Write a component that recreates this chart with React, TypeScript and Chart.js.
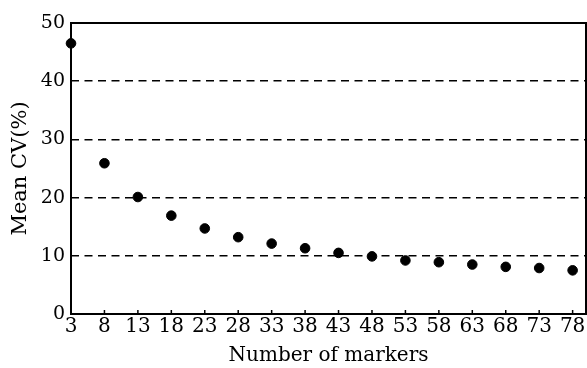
import React, { useEffect, useRef } from "react";
import { Chart, registerables } from "chart.js";

Chart.register(...registerables);

const markers = [3, 8, 13, 18, 23, 28, 33, 38, 43, 48, 53, 58, 63, 68, 73, 78];
const meanCV = [46.5, 25.9, 20.1, 16.9, 14.7, 13.2, 12.1, 11.3, 10.5, 9.9, 9.2, 8.9, 8.5, 8.1, 7.9, 7.5];
const xTicks = [3, 8, 13, 18, 23, 28, 33, 38, 43, 48, 53, 58, 63, 68, 73, 78];
const yTicks = [0, 10, 20, 30, 40, 50];

const FONT = "'DejaVu Serif', 'Liberation Serif', serif";

const framePlugin = {
  id: "frame",
  beforeDatasetsDraw(chart: any) {
    const { ctx, chartArea } = chart;
    const { left, right, top, bottom } = chartArea;
    const xs = chart.scales.x;
    ctx.save();
    ctx.strokeStyle = "#000";
    ctx.setLineDash([]);
    ctx.lineWidth = 2;
    ctx.strokeRect(left, top, right - left, bottom - top);
    ctx.lineWidth = 1.5;
    xTicks.forEach((v) => {
      const px = xs.getPixelForValue(v);
      ctx.beginPath();
      ctx.moveTo(px, bottom);
      ctx.lineTo(px, bottom - 4);
      ctx.stroke();
    });
    ctx.restore();
  },
};

export default function App() {
  const ref = useRef<HTMLCanvasElement | null>(null);
  useEffect(() => {
    document.body.style.margin = "0";
    const chart = new Chart(ref.current!, {
      type: "scatter",
      data: {
        datasets: [
          {
            data: markers.map((m, i) => ({ x: m, y: meanCV[i] })),
            backgroundColor: "#000",
            borderColor: "#000",
            pointRadius: 4.8,
            pointHoverRadius: 4.8,
            clip: false as any,
          },
        ],
      },
      options: {
        animation: false,
        responsive: false,
        maintainAspectRatio: false,
        layout: { autoPadding: false, padding: { top: 23, right: 1, left: 0, bottom: 0 } },
        plugins: { legend: { display: false }, tooltip: { enabled: false } },
        scales: {
          x: {
            type: "linear",
            min: 3,
            max: 80,
            afterBuildTicks: (s: any) => {
              s.ticks = xTicks.map((v) => ({ value: v }));
            },
            afterFit: (s: any) => {
              s.height = 54;
              s.paddingLeft = 0;
              s.paddingRight = 0;
            },
            grid: { display: false, drawTicks: false },
            border: { display: false },
            ticks: {
              color: "#000",
              font: { family: FONT, size: 20 },
              padding: 1,
              autoSkip: false,
              maxRotation: 0,
              callback: (v: any) => String(v),
            },
            title: {
              display: true,
              text: "Number of markers",
              color: "#000",
              font: { family: FONT, size: 20 },
              padding: { top: 0, bottom: 0 },
            },
          },
          y: {
            type: "linear",
            min: 0,
            max: 50,
            afterBuildTicks: (s: any) => {
              s.ticks = yTicks.map((v) => ({ value: v }));
            },
            afterFit: (s: any) => {
              s.width = 71;
              s.paddingTop = 0;
              s.paddingBottom = 0;
            },
            grid: {
              drawTicks: false,
              color: (c: any) => (c.tick && (c.tick.value === 0 || c.tick.value === 50) ? "rgba(0,0,0,0)" : "#000"),
              lineWidth: 1.4,
            },
            border: { display: false, dash: [8, 5.5] },
            ticks: {
              color: "#000",
              font: { family: FONT, size: 19 },
              padding: 6,
              callback: (v: any) => String(v),
            },
            title: {
              display: true,
              text: "Mean CV(%)",
              color: "#000",
              font: { family: FONT, size: 21 },
              padding: { top: 8, bottom: 0 },
            },
          },
        },
      },
      plugins: [framePlugin],
    });
    return () => chart.destroy();
  }, []);
  return <canvas ref={ref} width={587} height={368} style={{ display: "block" }} />;
}
